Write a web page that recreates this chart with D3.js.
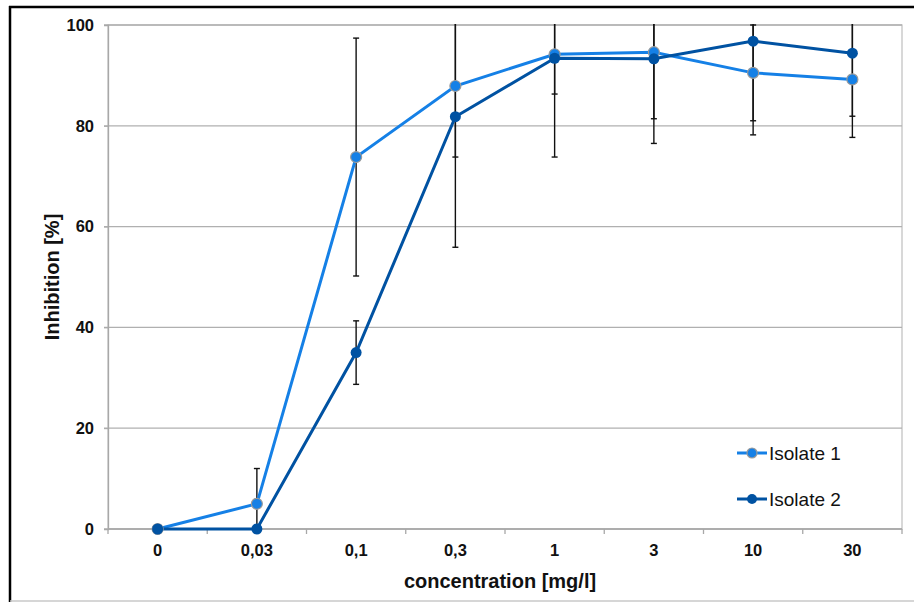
<!DOCTYPE html>
<html>
<head>
<meta charset="utf-8">
<script src="https://cdn.jsdelivr.net/npm/d3@7"></script>
<style>
  body { margin: 0; background: #fff; }
  text { font-family: "Liberation Sans", Arial, sans-serif; }
</style>
</head>
<body>
<svg id="chart" width="914" height="602"></svg>
<script>
// concentrations (x categories)
let concentrations = ["0", "0,03", "0,1", "0,3", "1", "3", "10", "30"];
let isolate1 = [0, 5, 73.8, 87.9, 94.2, 94.6, 90.5, 89.2];
let isolate1Err = [0, 7, 23.6, 14.1, 7.9, 13.2, 9.5, 11.5];
let isolate2 = [0, 0, 35, 81.8, 93.4, 93.3, 96.8, 94.4];
let isolate2Err = [0, 0, 6.3, 25.9, 19.6, 16.8, 18.6, 12.5];
let yTicks = [0, 20, 40, 60, 80, 100];
let seriesNames = ["Isolate 1", "Isolate 2"];

let margin = {top: 25, left: 108, right: 12, bottom: 73};
let width = 914, height = 602;

const svg = d3.select("#chart");

// frame
svg.append("line").attr("x1", 10).attr("x2", 10).attr("y1", 6).attr("y2", 602)
  .attr("stroke", "#000").attr("stroke-width", 2.5);
svg.append("line").attr("x1", 9).attr("x2", 914).attr("y1", 7).attr("y2", 7)
  .attr("stroke", "#000").attr("stroke-width", 2.5);
svg.append("line").attr("x1", 10).attr("x2", 914).attr("y1", 601).attr("y2", 601)
  .attr("stroke", "#c8c8c8").attr("stroke-width", 1.5);

let x = d3.scaleBand()
  .domain(concentrations)
  .range([margin.left, width - margin.right]);

let y = d3.scaleLinear()
  .domain([0, 100])
  .range([height - margin.bottom, margin.top]);

// plot box + grid
svg.append("rect")
  .attr("x", x.range()[0]).attr("y", y(100))
  .attr("width", x.range()[1] - x.range()[0]).attr("height", y(0) - y(100))
  .attr("fill", "none").attr("stroke", "#c4c4c4").attr("stroke-width", 1.3);

svg.append("g")
  .selectAll("line")
  .data(yTicks)
  .join("line")
  .attr("x1", margin.left - 4).attr("x2", width - margin.right)
  .attr("y1", d => y(d)).attr("y2", d => y(d))
  .attr("stroke", "#b0b0b0").attr("stroke-width", 1.3);

// y axis
let yAxis = svg.append("g")
  .attr("transform", "translate(" + margin.left + ",0)")
  .call(d3.axisLeft(y).tickValues(yTicks).tickSize(4).tickPadding(10));
yAxis.select(".domain").attr("stroke", "#a8a8a8").attr("stroke-width", 1.3);
yAxis.selectAll(".tick line").attr("stroke", "#a8a8a8");
yAxis.selectAll(".tick text")
  .attr("font-size", 16.5).attr("font-weight", "bold").attr("fill", "#111")
  .attr("font-family", "Liberation Sans, Arial, sans-serif");

// x axis - ticks at band boundaries
let bounds = concentrations.map(c => x(c)).concat([x.range()[1]]);
svg.append("g")
  .selectAll("line")
  .data(bounds)
  .join("line")
  .attr("x1", d => d).attr("x2", d => d)
  .attr("y1", y(0)).attr("y2", y(0) + 5)
  .attr("stroke", "#a8a8a8").attr("stroke-width", 1.3);
svg.append("line")
  .attr("x1", x.range()[0]).attr("x2", x.range()[1])
  .attr("y1", y(0)).attr("y2", y(0))
  .attr("stroke", "#a8a8a8").attr("stroke-width", 1.3);

svg.append("g")
  .selectAll("text")
  .data(concentrations)
  .join("text")
  .attr("x", d => x(d) + x.bandwidth() / 2)
  .attr("y", y(0) + 27)
  .attr("text-anchor", "middle")
  .attr("font-size", 16.5).attr("font-weight", "bold").attr("fill", "#111")
  .text(d => d);

// axis titles
svg.append("text")
  .attr("transform", "translate(59," + ((y(0) + y(100)) / 2) + ") rotate(-90)")
  .attr("text-anchor", "middle")
  .attr("font-size", 20).attr("font-weight", "bold").attr("fill", "#111")
  .text("Inhibition [%]");
svg.append("text")
  .attr("x", (x.range()[0] + x.range()[1]) / 2 - 5)
  .attr("y", 588)
  .attr("text-anchor", "middle")
  .attr("font-size", 20).attr("font-weight", "bold").attr("fill", "#111")
  .text("concentration [mg/l]");

// clip to plot area
svg.append("clipPath").attr("id", "plotclip")
  .append("rect")
  .attr("x", x.range()[0]).attr("y", y(100) - 1)
  .attr("width", x.range()[1] - x.range()[0]).attr("height", y(0) - y(100) + 8);

let plot = svg.append("g").attr("clip-path", "url(#plotclip)");

let series = [
  {name: seriesNames[0], values: isolate1, err: isolate1Err, color: "#1580e6", stroke: "#9a9a9a"},
  {name: seriesNames[1], values: isolate2, err: isolate2Err, color: "#0052a2", stroke: "none"}
];

let cx = c => x(c) + x.bandwidth() / 2;

// error bars
series.forEach(s => {
  let g = plot.append("g");
  let rows = concentrations.map((c, i) => ({c: c, v: s.values[i], e: s.err[i]})).filter(d => d.e > 0);
  g.selectAll("line.v").data(rows).join("line")
    .attr("x1", d => cx(d.c)).attr("x2", d => cx(d.c))
    .attr("y1", d => y(Math.max(0, d.v - d.e))).attr("y2", d => y(d.v + d.e))
    .attr("stroke", "#111").attr("stroke-width", 1.4);
  g.selectAll("line.hi").data(rows).join("line")
    .attr("x1", d => cx(d.c) - 3).attr("x2", d => cx(d.c) + 3)
    .attr("y1", d => y(d.v + d.e)).attr("y2", d => y(d.v + d.e))
    .attr("stroke", "#111").attr("stroke-width", 1.4);
  g.selectAll("line.lo").data(rows.filter(d => d.v - d.e >= 0)).join("line")
    .attr("x1", d => cx(d.c) - 3).attr("x2", d => cx(d.c) + 3)
    .attr("y1", d => y(d.v - d.e)).attr("y2", d => y(d.v - d.e))
    .attr("stroke", "#111").attr("stroke-width", 1.4);
});

let line = d3.line()
  .x((d, i) => cx(concentrations[i]))
  .y(d => y(d));

series.forEach(s => {
  plot.append("path")
    .datum(s.values)
    .attr("d", line)
    .attr("fill", "none")
    .attr("stroke", s.color)
    .attr("stroke-width", 3);
});
series.forEach(s => {
  plot.append("g").selectAll("circle")
    .data(s.values)
    .join("circle")
    .attr("cx", (d, i) => cx(concentrations[i]))
    .attr("cy", d => y(d))
    .attr("r", 5.5)
    .attr("fill", s.color)
    .attr("stroke", s.stroke)
    .attr("stroke-width", 1.2);
});

// legend
let leg = svg.append("g").attr("transform", "translate(737,453)");
series.forEach((s, i) => {
  let row = leg.append("g").attr("transform", "translate(0," + (i * 46) + ")");
  row.append("line").attr("x1", 0).attr("x2", 30).attr("y1", 0).attr("y2", 0)
    .attr("stroke", s.color).attr("stroke-width", 3);
  row.append("circle").attr("cx", 15).attr("cy", 0).attr("r", 5)
    .attr("fill", s.color).attr("stroke", s.stroke).attr("stroke-width", 1.2);
  row.append("text").attr("x", 32).attr("y", 7)
    .attr("font-size", 19).attr("fill", "#111")
    .text(s.name);
});
</script>
</body>
</html>
